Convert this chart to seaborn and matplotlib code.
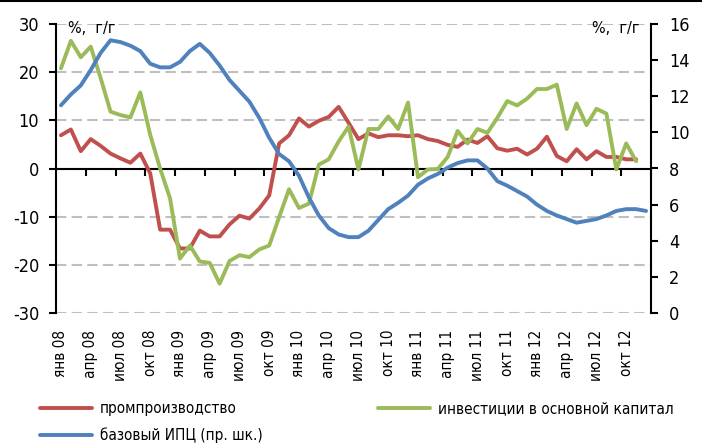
import numpy as np
import pandas as pd
import matplotlib
matplotlib.use('Agg')
import matplotlib.pyplot as plt
from matplotlib.lines import Line2D
import seaborn as sns

# помесячно, янв 2008 - дек 2012
months = pd.date_range('2008-01-01', periods=60, freq='MS')
tick_months = ['янв', 'апр', 'июл', 'окт']
tick_years = ['08', '09', '10', '11', '12']
tick_labels = [f'{m} {y}' for y in tick_years for m in tick_months]

# промпроизводство, % г/г (левая шкала), до ноя 2012
prom = [6.9, 8.1, 3.6, 6.1, 4.7, 3.1, 2.1, 1.2, 3.1, -1.0,
        -12.7, -12.7, -16.6, -16.6, -12.9, -14.1, -14.1, -11.6, -9.8, -10.4,
        -8.3, -5.6, 5.2, 6.9, 10.4, 8.7, 9.9, 10.7, 12.8, 9.5,
        6.1, 7.3, 6.5, 6.9, 6.9, 6.7, 6.9, 6.1, 5.7, 4.9,
        4.5, 6.0, 5.3, 6.7, 4.2, 3.7, 4.1, 2.9, 4.1, 6.6,
        2.6, 1.5, 4.0, 1.9, 3.6, 2.4, 2.4, 1.9, 1.9]

# инвестиции в основной капитал, % г/г (левая шкала), до ноя 2012
invest = [20.8, 26.5, 23.1, 25.3, 18.8, 11.8, 11.1, 10.6, 15.8, 7.0,
          0.0, -6.2, -18.7, -16.0, -19.3, -19.6, -23.9, -19.2, -18.0, -18.4,
          -16.8, -16.0, -10.1, -4.3, -8.2, -7.3, 0.8, 1.9, 5.6, 8.7,
          -0.2, 8.2, 8.2, 10.8, 8.2, 13.7, -1.8, -0.2, -0.1, 2.4,
          7.8, 5.2, 8.2, 7.4, 10.5, 14.0, 13.1, 14.5, 16.5, 16.5,
          17.4, 8.2, 13.5, 9.0, 12.4, 11.4, -0.2, 5.2, 1.5]

# базовый ИПЦ, % г/г (правая шкала)
core_cpi = [11.5, 12.1, 12.6, 13.45, 14.4, 15.1, 15.0, 14.8, 14.5, 13.8,
            13.6, 13.6, 13.9, 14.5, 14.9, 14.4, 13.7, 12.9, 12.3, 11.7,
            10.8, 9.7, 8.8, 8.4, 7.6, 6.4, 5.4, 4.7, 4.35, 4.2,
            4.2, 4.55, 5.15, 5.75, 6.1, 6.5, 7.1, 7.45, 7.7, 8.05,
            8.3, 8.45, 8.45, 8.0, 7.3, 7.05, 6.75, 6.45, 6.0, 5.65,
            5.4, 5.2, 5.0, 5.1, 5.2, 5.4, 5.65, 5.75, 5.75, 5.65]

RED = '#C0504D'
GREEN = '#9BBB59'
BLUE = '#4F81BD'

pos = np.arange(len(months))
df = pd.DataFrame({
    'pos': pos,
    'prom': prom + [np.nan] * (len(months) - len(prom)),
    'invest': invest + [np.nan] * (len(months) - len(invest)),
    'core_cpi': core_cpi,
})

sns.set_theme(style='white')
plt.rcParams['font.family'] = ['DejaVu Sans']
plt.rcParams['font.stretch'] = 'condensed'
plt.rcParams['axes.unicode_minus'] = False
plt.rcParams['text.color'] = 'black'
plt.rcParams['xtick.color'] = 'black'
plt.rcParams['ytick.color'] = 'black'

fig = plt.figure(figsize=(7.02, 4.45), dpi=100)
ax = fig.add_axes([56 / 702, 132 / 445, 595 / 702, 289 / 445])
ax2 = ax.twinx()

sns.lineplot(data=df, x='pos', y='prom', ax=ax, color=RED, linewidth=2.8,
             label='промпроизводство', legend=False, zorder=3)
sns.lineplot(data=df, x='pos', y='invest', ax=ax, color=GREEN, linewidth=2.8,
             label='инвестиции в основной капитал', legend=False, zorder=3)
sns.lineplot(data=df, x='pos', y='core_cpi', ax=ax2, color=BLUE, linewidth=2.8,
             label='базовый ИПЦ (пр. шк.)', legend=False)

# левая шкала
ax.set_xlim(-0.5, len(months) - 0.5)
ax.set_ylim(-30, 30)
ax.set_yticks(range(-30, 31, 10))
ax.grid(axis='y', color='#BFBFBF', linestyle=(0, (5, 2.5)), linewidth=1.5)
ax.grid(axis='x', visible=False)
ax.set_xlabel('')
ax.set_ylabel('')
for s in ['top', 'right']:
    ax.spines[s].set_visible(False)
ax.spines['left'].set_color('black')
ax.spines['left'].set_linewidth(1.5)
ax.spines['bottom'].set_position(('data', 0))
ax.spines['bottom'].set_color('black')
ax.spines['bottom'].set_linewidth(1.5)
ax.spines['bottom'].set_zorder(2.5)
ax.set_xticks(np.arange(2.5, len(months), 3))
ax.set_xticklabels([])
ax.tick_params(axis='x', direction='out', length=5, width=1.5, color='black', bottom=True)
ax.tick_params(axis='y', direction='out', length=5, width=1.5, color='black',
               left=True, pad=7, labelsize=13)

# подписи месяцев внизу
secax = ax.secondary_xaxis('bottom')
secax.set_xticks(pos[::3], tick_labels, rotation=90)
secax.tick_params(length=0, pad=12, labelsize=11)
secax.spines['bottom'].set_visible(False)

# правая шкала
ax2.set_ylim(0, 16)
ax2.set_yticks(range(0, 17, 2))
ax2.set_ylabel('')
ax2.grid(False)
for s in ['top', 'bottom', 'left']:
    ax2.spines[s].set_visible(False)
ax2.spines['right'].set_color('black')
ax2.spines['right'].set_linewidth(1.5)
ax2.tick_params(axis='y', direction='out', length=5, width=1.5, color='black',
                right=True, pad=8, labelsize=13)

ax.text(0.02, 0.986, '%,  г/г', transform=ax.transAxes, ha='left', va='center', fontsize=11.5)
ax.text(0.9815, 0.986, '%,  г/г', transform=ax.transAxes, ha='right', va='center', fontsize=11.5)

h_prom, h_inv = ax.get_lines()[:2]
h_cpi = ax2.get_lines()[0]
leg_kw = dict(loc='upper left', frameon=False, borderpad=0, borderaxespad=0,
              handlelength=3.4, handletextpad=0.5, labelspacing=0.75, fontsize=11)
fig.legend([h_prom, h_cpi], [h_prom.get_label(), h_cpi.get_label()],
           bbox_to_anchor=(40 / 702, 1 - 401 / 445), **leg_kw)
fig.legend([h_inv], [h_inv.get_label()],
           bbox_to_anchor=(378 / 702, 1 - 401 / 445), **leg_kw)

fig.add_artist(Line2D([0, 1], [1 - 1 / 445, 1 - 1 / 445], color='black',
                      linewidth=1.5, transform=fig.transFigure))

fig.savefig('out.png', dpi=100)
plt.close(fig)
